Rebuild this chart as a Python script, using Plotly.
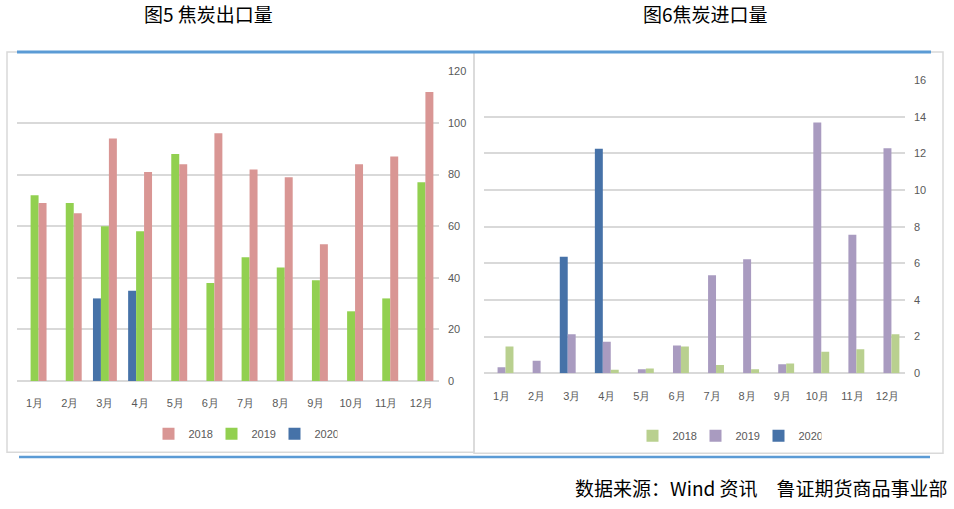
import plotly.graph_objects as go

W, H = 954, 509

months = ['1月', '2月', '3月', '4月', '5月', '6月', '7月', '8月', '9月', '10月', '11月', '12月']

# 图5 焦炭出口量
export_2018 = [69, 65, 94, 81, 84, 96, 82, 79, 53, 84, 87, 112]
export_2019 = [72, 69, 60, 58, 88, 38, 48, 44, 39, 27, 32, 77]
export_2020 = [None, None, 32, 35, None, None, None, None, None, None, None, None]

# 图6 焦炭进口量
import_2018 = [1.46, 0, 0, 0.18, 0.25, 1.46, 0.44, 0.21, 0.53, 1.17, 1.3, 2.13]
import_2019 = [0.32, 0.68, 2.13, 1.72, 0.21, 1.51, 5.35, 6.22, 0.48, 13.69, 7.56, 12.28]
import_2020 = [None, None, 6.36, 12.25, None, None, None, None, None, None, None, None]

years = ['2018', '2019', '2020']
left_colors = {'2018': '#D99694', '2019': '#92D050', '2020': '#4672A8'}
right_colors = {'2018': '#B9D08F', '2019': '#A99BC0', '2020': '#4672A8'}

tick_font = dict(family='Liberation Sans Narrow, Arial Narrow, Liberation Sans, Arial', size=11, color='#595959')
cjk_font = 'Noto Sans CJK SC'


def px_x(x):
    return x / W


def px_y(y):
    return 1 - y / H


fig = go.Figure()

# left chart, drawn 2020 -> 2019 -> 2018 from left to right in each group
for yr, vals in zip(['2020', '2019', '2018'], [export_2020, export_2019, export_2018]):
    fig.add_trace(go.Bar(
        x=months, y=vals, name=yr,
        marker=dict(color=left_colors[yr], line=dict(width=0)),
        xaxis='x', yaxis='y', legend='legend',
    ))

for yr, vals in zip(['2020', '2019', '2018'], [import_2020, import_2019, import_2018]):
    fig.add_trace(go.Bar(
        x=months, y=vals, name=yr,
        marker=dict(color=right_colors[yr], line=dict(width=0)),
        xaxis='x2', yaxis='y2', legend='legend2',
    ))

axis_common = dict(showline=False, ticks='', fixedrange=True)

fig.update_layout(
    width=W, height=H,
    margin=dict(l=0, r=0, t=0, b=0),
    paper_bgcolor='white',
    plot_bgcolor='white',
    barmode='group',
    bargap=0.32,
    bargroupgap=0,
    xaxis=dict(domain=[px_x(17), px_x(439)], anchor='y', showgrid=False,
               tickfont=tick_font, ticklabelstandoff=14, **axis_common),
    yaxis=dict(domain=[px_y(384), px_y(67)], anchor='x', side='right',
               range=[0, 120], dtick=20, gridcolor='#D9D9D9', gridwidth=1.5,
               zeroline=True, zerolinecolor='#D9D9D9', zerolinewidth=2,
               tickfont=tick_font, ticklabelstandoff=8, **axis_common),
    xaxis2=dict(domain=[px_x(484), px_x(905)], anchor='y2', showgrid=False,
                tickfont=tick_font, ticklabelstandoff=15, **axis_common),
    yaxis2=dict(domain=[px_y(376), px_y(76)], anchor='x2', side='right',
                range=[0, 16], dtick=2, gridcolor='#D9D9D9', gridwidth=1.5,
                zeroline=True, zerolinecolor='#D9D9D9', zerolinewidth=2,
                tickfont=tick_font, ticklabelstandoff=8, **axis_common),
    legend=dict(orientation='h', x=px_x(243), xanchor='center', y=px_y(438), yanchor='middle',
                traceorder='reversed', font=tick_font, bgcolor='rgba(0,0,0,0)',
                entrywidth=18, entrywidthmode='pixels', itemwidth=30),
    legend2=dict(orientation='h', x=px_x(727), xanchor='center', y=px_y(440), yanchor='middle',
                 traceorder='reversed', font=tick_font, bgcolor='rgba(0,0,0,0)',
                 entrywidth=18, entrywidthmode='pixels', itemwidth=30),
    showlegend=True,
)

# panel frames and the blue rules
fig.add_shape(type='rect', xref='paper', yref='paper',
              x0=px_x(7), x1=px_x(474), y0=px_y(457), y1=px_y(47),
              line=dict(color='#D9D9D9', width=1.5), layer='below')
fig.add_shape(type='rect', xref='paper', yref='paper',
              x0=px_x(474), x1=px_x(943), y0=px_y(458), y1=px_y(47),
              line=dict(color='#D9D9D9', width=1.5), layer='below')
fig.add_shape(type='line', xref='paper', yref='paper',
              x0=px_x(17), x1=px_x(931), y0=px_y(47), y1=px_y(47),
              line=dict(color='#5B9BD5', width=3))
fig.add_shape(type='line', xref='paper', yref='paper',
              x0=px_x(19), x1=px_x(930), y0=px_y(462), y1=px_y(462),
              line=dict(color='#5B9BD5', width=2.5))

fig.add_annotation(text='图5 焦炭出口量', xref='paper', yref='paper',
                   x=px_x(208), y=px_y(8), xanchor='center', yanchor='middle',
                   showarrow=False, font=dict(family=cjk_font, size=19, color='#000000'))
fig.add_annotation(text='图6焦炭进口量', xref='paper', yref='paper',
                   x=px_x(705), y=px_y(8), xanchor='center', yanchor='middle',
                   showarrow=False, font=dict(family=cjk_font, size=19, color='#000000'))
fig.add_annotation(text='数据来源：Wind 资讯　鲁证期货商品事业部', xref='paper', yref='paper',
                   x=px_x(950), y=px_y(493), xanchor='right', yanchor='middle',
                   showarrow=False, font=dict(family=cjk_font, size=19, color='#000000'))

# page body has an 8px default margin; drop it so the figure sits at (0, 0)
fig.write_html('out.html', config=dict(displayModeBar=False),
               post_script="document.body.style.margin='0';")
